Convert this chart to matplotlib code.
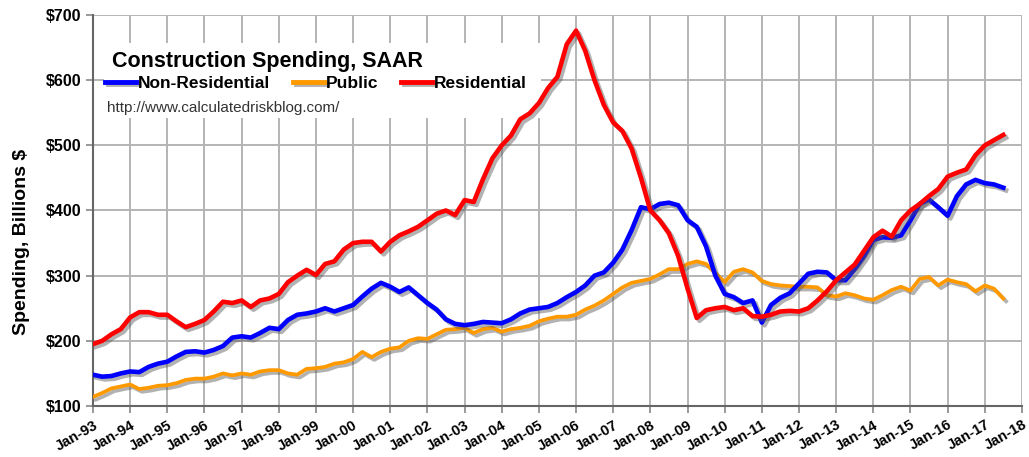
import numpy as np
import pandas as pd
import matplotlib
matplotlib.use("Agg")
import matplotlib.pyplot as plt
import matplotlib.dates as mdates
import matplotlib.patheffects as pe
from matplotlib.patches import Rectangle

plt.rcParams['font.family'] = ['Liberation Sans', 'DejaVu Sans']

# quarterly readings, Jan-93 .. Jul-17 (billions $, SAAR)
dates = pd.date_range("1993-01-01", "2017-07-01", freq="QS")

residential = [
    195, 200, 210, 218,
    236, 244, 244, 240,
    240, 230, 221, 226,
    232, 245, 260, 258,
    262, 252, 262, 265,
    272, 290, 300, 309,
    301, 318, 322, 340,
    350, 352, 352, 337,
    352, 362, 368, 375,
    385, 395, 400, 393,
    416, 413, 448, 480,
    500, 515, 540, 549,
    565, 588, 605, 655,
    676, 645, 600, 562,
    535, 522, 495, 450,
    400, 385, 365, 330,
    280, 235, 247, 250,
    252, 247, 250, 238,
    237, 240, 245, 246,
    245, 250, 262, 276,
    293, 305, 317, 338,
    359, 369, 360, 385,
    400, 410, 422, 433,
    452, 458, 463, 485,
    500, 508, 516]

non_residential = [
    148, 145, 146, 150,
    153, 152, 160, 165,
    168, 176, 183, 184,
    182, 186, 192, 205,
    207, 205, 212, 220,
    218, 232, 240, 242,
    245, 250, 245, 250,
    255, 268, 280, 289,
    283, 275, 282, 270,
    258, 248, 233, 226,
    224, 226, 229, 228,
    227, 233, 242, 248,
    250, 252, 258, 267,
    275, 285, 300, 305,
    320, 340, 370, 405,
    402, 410, 412, 408,
    385, 375, 345, 300,
    272, 267, 258, 262,
    228, 255, 266, 273,
    288, 303, 306, 305,
    293, 293, 310, 330,
    355, 359, 358, 362,
    385, 410, 417, 405,
    392, 422, 440, 447,
    442, 440, 435]

public = [
    114, 120, 127, 130,
    133, 126, 128, 131,
    132, 135, 140, 142,
    142, 145, 150, 147,
    150, 148, 153, 155,
    155, 150, 148, 157,
    158, 160, 165, 167,
    172, 183, 175, 183,
    188, 190, 200, 204,
    203, 210, 217, 218,
    220, 212, 218, 220,
    214, 218, 220, 223,
    230, 234, 237, 237,
    240, 248, 254, 262,
    272, 282, 289, 292,
    295, 302, 310, 310,
    318, 322, 318, 304,
    290, 306, 310, 305,
    292, 287, 285, 284,
    283, 283, 282, 270,
    268, 273, 270, 265,
    263, 270, 278, 283,
    277, 295, 298, 285,
    294, 290, 287, 276,
    285, 280, 265]

fig = plt.figure(figsize=(10.29, 4.57), dpi=100)
ax = fig.add_axes([0.0904, 0.1116, 0.9028, 0.8556])

shadow = [pe.SimpleLineShadow(offset=(2, -2), shadow_color='#555555', alpha=0.45),
          pe.Normal()]
ax.plot(dates, non_residential, color='#0000ff', lw=3.3, label='Non-Residential',
        path_effects=shadow, zorder=5)
ax.plot(dates, public, color='#ff9900', lw=2.7, label='Public',
        path_effects=shadow, zorder=4)
ax.plot(dates, residential, color='#ff0000', lw=3.3, label='Residential',
        path_effects=shadow, zorder=6)

ax.set_xlim(pd.Timestamp("1993-01-01"), pd.Timestamp("2018-01-01"))
ax.set_ylim(100, 700)
ax.set_yticks(range(100, 701, 100))
ax.set_yticklabels(['$%d' % v for v in range(100, 701, 100)],
                   fontsize=11.5, fontweight='bold')
ax.xaxis.set_major_locator(mdates.YearLocator())
ax.xaxis.set_major_formatter(mdates.DateFormatter('%b-%y'))
for lab in ax.get_xticklabels():
    lab.set_rotation(30)
    lab.set_ha('right')
    lab.set_rotation_mode('anchor')
    lab.set_fontsize(10.5)
    lab.set_fontweight('bold')

ax.grid(True, color='#b4b4b4', lw=1.4, zorder=0)
ax.set_axisbelow(True)
for s in ['top', 'right']:
    ax.spines[s].set_visible(False)
for s in ['left', 'bottom']:
    ax.spines[s].set_color('#666666')
    ax.spines[s].set_linewidth(1.5)
ax.tick_params(direction='out', length=5, color='#888888', width=1.2)
ax.set_ylabel('Spending, Billions $', fontsize=14, fontweight='bold')
ax.yaxis.set_label_coords(-0.068, 0.42)

# white block behind the title / legend
ax.add_patch(Rectangle((0.012, 0.737), 0.47, 0.191, transform=ax.transAxes,
                       facecolor='white', edgecolor='none', zorder=2))
ax.text(0.020, 0.882, 'Construction Spending, SAAR', transform=ax.transAxes,
        fontsize=15.5, fontweight='bold', va='center', ha='left', zorder=7)
leg = ax.legend(loc='center left', bbox_to_anchor=(0.013, 0.826), ncol=3,
                frameon=False, borderpad=0, borderaxespad=0,
                handlelength=1.8, handletextpad=0.1, columnspacing=1.3,
                prop={'weight': 'bold', 'size': 12.5})
for h in leg.get_lines():
    h.set_linewidth(3.5)
ax.text(0.015, 0.763, 'http://www.calculatedriskblog.com/', transform=ax.transAxes,
        fontsize=11, va='center', ha='left', color='#333333', zorder=7)

fig.savefig('out.png', dpi=100)
